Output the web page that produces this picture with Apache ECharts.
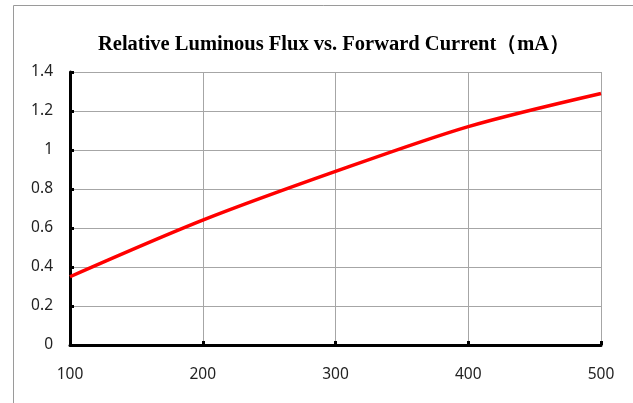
<!DOCTYPE html>
<html>
<head>
<meta charset="utf-8">
<script src="https://cdn.jsdelivr.net/npm/echarts@6/dist/echarts.min.js"></script>
<style>html,body{margin:0;padding:0;background:#fff}#c{width:633px;height:403px}</style>
</head>
<body>
<div id="c"></div>
<script>
var titleText = 'Relative Luminous Flux vs. Forward Current（mA）';
var currents = [100, 200, 300, 400, 500];
var relFlux = [0.35, 0.64, 0.89, 1.12, 1.29];
var xTicks = [100, 200, 300, 400, 500];
var yTicks = [0, 0.2, 0.4, 0.6, 0.8, 1, 1.2, 1.4];

var chart = echarts.init(document.getElementById('c'), null, {renderer: 'canvas'});
var labelFont = {color: '#222', fontFamily: 'Noto Sans', fontSize: 15.5};
chart.setOption({
  animation: false,
  backgroundColor: '#fff',
  graphic: [{
    type: 'rect', left: 11, top: 3, silent: true,
    shape: {x: 0, y: 0, width: 700, height: 500},
    style: {fill: 'none', stroke: '#9a9a9a', lineWidth: 1}
  }],
  title: {
    text: titleText, left: 93, top: 29,
    textStyle: {fontFamily: 'Liberation Serif', fontWeight: 'bold', fontSize: 20.5, color: '#000'}
  },
  grid: {left: 70, right: 32, top: 72, bottom: 58, containLabel: false},
  xAxis: {
    type: 'value', min: 100, max: 500, interval: 100,
    axisLine: {show: true, lineStyle: {color: '#000', width: 3}},
    axisTick: {show: true, inside: true, length: 4, lineStyle: {color: '#000', width: 3}},
    axisLabel: Object.assign({margin: 22, formatter: function(v){return xTicks.indexOf(v) >= 0 ? String(v) : '';}}, labelFont),
    splitLine: {show: true, lineStyle: {color: '#a6a6a6', width: 1}}
  },
  yAxis: {
    type: 'value', min: 0, max: 1.4, interval: 0.2,
    axisLine: {show: true, onZero: false, lineStyle: {color: '#000', width: 3}},
    axisTick: {show: true, inside: true, length: 4, lineStyle: {color: '#000', width: 3}},
    axisLabel: Object.assign({margin: 17, formatter: function(v){
      var r = Math.round(v * 10) / 10;
      return yTicks.indexOf(r) >= 0 ? String(r) : '';
    }}, labelFont),
    splitLine: {show: true, lineStyle: {color: '#a6a6a6', width: 1}}
  },
  series: [{
    type: 'line', smooth: 0.3, symbol: 'none',
    data: currents.map(function(c, i){ return [c, relFlux[i]]; }),
    lineStyle: {color: '#ff0000', width: 3.5}
  }]
});
</script>
</body>
</html>
